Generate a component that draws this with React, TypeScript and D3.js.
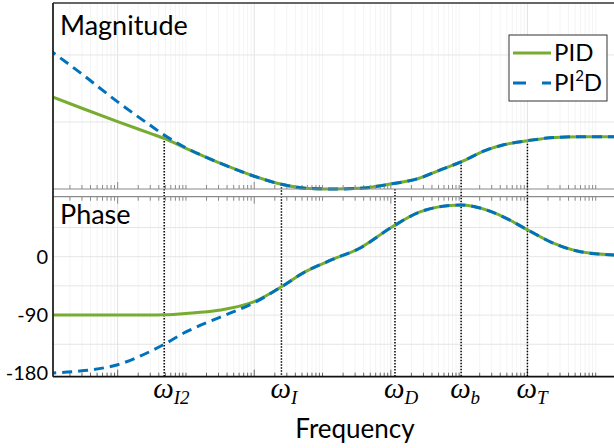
import React from 'react';
import * as d3 from 'd3';

// ---- data ----
const freq = [0.11, 0.3, 1, 3, 4.8, 10, 30, 100, 250, 560, 1400, 3500, 1e4, 2.6e4, 5e4, 1.07e5, 2.5e5, 4.5e5, 1e6, 2.5e6, 6e6, 2e7];
const pidMag = [27.5, 24.1, 20.1, 16.6, 15.1, 12.1, 7.9, 3.8, 1.4, 0.25, 0, 0.2, 1.5, 3.2, 5.5, 8.1, 11.6, 13.2, 14.4, 15.4, 15.6, 15.6];
const pi2dMag = [40.9, 34.3, 26.0, 19.0, 16.1, 12.3, 7.9, 3.8, 1.4, 0.25, 0, 0.2, 1.5, 3.2, 5.5, 8.1, 11.6, 13.2, 14.4, 15.4, 15.6, 15.6];
const pidPhase = [-90, -90, -90, -90, -89.6, -87.5, -82.6, -69.2, -46.4, -23.1, -4.3, 13.1, 44.6, 68.6, 76.8, 79.7, 72.1, 61.1, 41.5, 20, 7.6, 2.5];
const pi2dPhase = [-179.3, -176, -166.5, -146, -135, -116, -94.2, -71, -46.4, -23.1, -4.3, 13.1, 44.6, 68.6, 76.8, 79.7, 72.1, 61.1, 41.5, 20, 7.6, 2.5];

const markerFreq = [4.8, 250, 1.15e4, 1.07e5, 1e6];
const markerTopMag = [16.1, 1.4, 0, 8.1, 14.4];
const markerSub = ['I2', 'I', 'D', 'b', 'T'];

const phaseTicks = [0, -90, -180];
const phaseGrid = [45, 0, -45, -90, -135];
const magGrid = [20, 40];
const seriesNames = ['PID', 'PI2D'];

const W = 614, H = 448;
const GREEN = '#77AC30', BLUE = '#0072BD';
const SANS = 'Lato, "Open Sans", sans-serif';

export default function App() {
  const x = d3.scaleLog().domain([0.113, 2.05e7]).range([53, 617]);
  const yMag = d3.scaleLinear().domain([0, 55.5]).range([189, 3]);
  const yPh = d3.scaleLinear().domain([-185, 92.5]).range([376.7, 196.7]);
  const magTop = 3, magBot = 189, phTop = 196.7, phBot = 376.7, left = 53, right = 617;

  const lineMag = d3.line<number>().x((_, i) => x(freq[i])).y(d => yMag(d)).curve(d3.curveMonotoneX);
  const linePh = d3.line<number>().x((_, i) => x(freq[i])).y(d => yPh(d)).curve(d3.curveMonotoneX);

  // log ticks
  const ticks: { f: number; major: boolean }[] = [];
  for (let d = -1; d <= 7; d++) {
    for (let k = 1; k <= 9; k++) {
      const f = k * Math.pow(10, d);
      if (f < 0.113 || f > 2.05e7) continue;
      ticks.push({ f, major: k === 1 && d % 2 === 0 });
    }
  }

  return (
    <svg width={W} height={H} style={{ position: 'absolute', left: 0, top: 0, background: '#fff' }}>
      <defs>
        <clipPath id="cm"><rect x={left} y={magTop} width={right - left} height={magBot - magTop + 2} /></clipPath>
        <clipPath id="cp"><rect x={left} y={phTop} width={right - left} height={phBot - phTop} /></clipPath>
      </defs>
      <rect x={0} y={0} width={W} height={H} fill="#fff" />
      {/* grids */}
      {ticks.map((t, i) => (
        <g key={'g' + i}>
          <line x1={x(t.f)} x2={x(t.f)} y1={magTop} y2={magBot} stroke={t.major ? '#e2e2e2' : '#f4f4f4'} strokeWidth={1} />
          <line x1={x(t.f)} x2={x(t.f)} y1={phTop} y2={phBot} stroke={t.major ? '#e2e2e2' : '#f4f4f4'} strokeWidth={1} />
        </g>
      ))}
      {magGrid.map(v => (
        <line key={'mg' + v} x1={left} x2={right} y1={yMag(v)} y2={yMag(v)} stroke="#e6e6e6" />
      ))}
      {phaseGrid.map(v => (
        <line key={'pg' + v} x1={left} x2={right} y1={yPh(v)} y2={yPh(v)} stroke="#e6e6e6" />
      ))}
      {/* ticks */}
      {ticks.map((t, i) => {
        const L = t.major ? 7 : 4;
        const xx = x(t.f);
        return (
          <g key={'t' + i} stroke="#8a8a8a" strokeWidth={1}>
            <line x1={xx} x2={xx} y1={magBot} y2={magBot - L} />
            <line x1={xx} x2={xx} y1={phTop} y2={phTop + L} />
            <line x1={xx} x2={xx} y1={phBot} y2={phBot - L} stroke="#666" />
          </g>
        );
      })}
      {/* marker lines */}
      {markerFreq.map((f, i) => (
        <line key={'m' + i} x1={x(f)} x2={x(f)} y1={yMag(markerTopMag[i])} y2={phBot}
          stroke="#000" strokeWidth={1.5} strokeDasharray="1.5 1.5" />
      ))}
      {/* curves */}
      <g clipPath="url(#cm)" fill="none">
        <path d={lineMag(pidMag) || ''} stroke={GREEN} strokeWidth={3} />
        <path d={lineMag(pi2dMag) || ''} stroke={BLUE} strokeWidth={3} strokeDasharray="10 6" strokeDashoffset={6} />
      </g>
      <g clipPath="url(#cp)" fill="none">
        <path d={linePh(pidPhase) || ''} stroke={GREEN} strokeWidth={3} />
        <path d={linePh(pi2dPhase) || ''} stroke={BLUE} strokeWidth={3} strokeDasharray="10 6" strokeDashoffset={6} />
      </g>
      {/* axes frames */}
      <line x1={left} x2={right} y1={magBot} y2={magBot} stroke="#8a8a8a" strokeWidth={1.2} />
      <line x1={left} x2={right} y1={phTop} y2={phTop} stroke="#8a8a8a" strokeWidth={1.2} />
      <line x1={left} x2={right} y1={magTop} y2={magTop} stroke="#333" strokeWidth={1.5} />
      <line x1={left} x2={right} y1={phBot} y2={phBot} stroke="#111" strokeWidth={1.8} />
      <line x1={left} x2={left} y1={magTop} y2={phBot} stroke="#222" strokeWidth={1.8} />
      {/* titles */}
      <text x={60} y={35} fontFamily={SANS} fontSize={27} fill="#000">Magnitude</text>
      <text x={60} y={223.5} fontFamily={SANS} fontSize={27} fill="#000">Phase</text>
      {phaseTicks.map(v => (
        <text key={'pt' + v} x={48} y={yPh(v)} dy="0.35em" textAnchor="end" fontFamily={SANS} fontSize={20} fill="#000">{v}</text>
      ))}
      {/* marker labels */}
      {markerFreq.map((f, i) => (
        <text key={'ml' + i} x={x(f) - 11} y={398} fontFamily='"Liberation Serif", serif' fontStyle="italic" fontSize={29} fill="#000">
          ω<tspan fontSize={19} dy={6}>{markerSub[i]}</tspan>
        </text>
      ))}
      <text x={355} y={438} textAnchor="middle" fontFamily={SANS} fontSize={26} fill="#000">Frequency</text>
      {/* legend */}
      <rect x={509} y={35} width={98} height={66} fill="#fff" stroke="#333" strokeWidth={1} />
      <line x1={513} x2={551} y1={53} y2={53} stroke={GREEN} strokeWidth={3} />
      <line x1={513} x2={551} y1={83} y2={83} stroke={BLUE} strokeWidth={3} strokeDasharray="13 16" />
      <text x={554} y={61} fontFamily={SANS} fontSize={24} fill="#000">{seriesNames[0]}</text>
      <text x={554} y={91} fontFamily={SANS} fontSize={24} fill="#000">
        PI<tspan fontSize={15} dy={-10}>2</tspan><tspan dy={10}>D</tspan>
      </text>
    </svg>
  );
}
